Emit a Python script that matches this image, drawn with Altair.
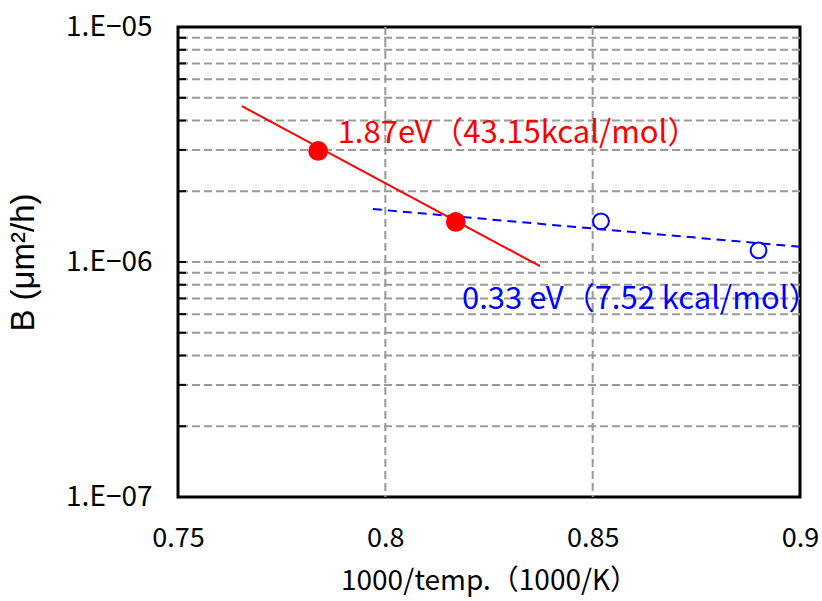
import altair as alt
import pandas as pd

# Data
red_x = [0.7838, 0.8170]
red_y = [2.97e-6, 1.48e-6]
red_fit_x = [0.7654, 0.8373]
red_fit_y = [4.61e-6, 9.6e-7]
blue_x = [0.852, 0.890]
blue_y = [1.49e-6, 1.12e-6]
blue_fit_x = [0.797, 0.900]
blue_fit_y = [1.68e-6, 1.16e-6]
x_ticks = [0.75, 0.8, 0.85, 0.9]
x_grid = [0.8, 0.85]
y_ticks = [1e-7, 1e-6, 1e-5]
y_grid = [m * 10.0 ** d for d in (-7, -6) for m in range(1, 10)][1:]
labels_text = ["1.87eV（43.15kcal/mol）", "0.33 eV（7.52 kcal/mol）"]
labels_x = [0.7885, 0.8185]
labels_y = [3.5e-6, 6.9e-7]
labels_color = ["#ff0000", "#0000ff"]

FONT = "Noto Sans CJK JP"

xs = alt.Scale(domain=[0.75, 0.9], nice=False, zero=False)
ys = alt.Scale(type="log", domain=[1e-7, 1e-5], nice=False)

xaxis = alt.Axis(values=x_ticks, labelExpr="format(datum.value, '~g')",
                 title="1000/temp.（1000/K）", grid=False, ticks=False, domain=False,
                 labelFlush=False, labelOverlap=False,
                 labelPadding=28, titlePadding=16, labelFontSize=27,
                 titleFontSize=28, labelFont=FONT, titleFont=FONT,
                 labelColor="black", titleColor="black", titleFontWeight="normal")
yaxis = alt.Axis(values=y_ticks,
                 labelExpr="'1.E−0' + (-round(log(datum.value)/LN10))",
                 title="B (μm²/h)", grid=False, ticks=False, domain=False, labelPadding=26,
                 labelFlush=False,
                 titlePadding=25, labelFontSize=28, titleFontSize=33,
                 labelFont=FONT, titleFont="Liberation Sans",
                 labelColor="black", titleColor="black", titleFontWeight="normal",
                 labelOverlap=False)

base = alt.Chart(pd.DataFrame({"x": x_ticks[:1], "y": [1e-6]})).mark_point(opacity=0).encode(
    x=alt.X("x:Q", scale=xs, axis=xaxis),
    y=alt.Y("y:Q", scale=ys, axis=yaxis),
)

hgrid = alt.Chart(pd.DataFrame({"y": y_grid})).mark_rule(
    color="#9a9a9a", strokeWidth=2, strokeDash=[8, 4]).encode(y=alt.Y("y:Q", scale=ys))
vgrid = alt.Chart(pd.DataFrame({"x": x_grid})).mark_rule(
    color="#9a9a9a", strokeWidth=2, strokeDash=[8, 4]).encode(x=alt.X("x:Q", scale=xs))

ticks = alt.Chart(pd.DataFrame({"y": y_grid})).mark_rule(color="black", strokeWidth=2).encode(
    y=alt.Y("y:Q", scale=ys), x=alt.value(0), x2=alt.value(8))

red_fit = alt.Chart(pd.DataFrame({"x": red_fit_x, "y": red_fit_y})).mark_line(
    color="#ff0000", strokeWidth=2).encode(x=alt.X("x:Q", scale=xs), y=alt.Y("y:Q", scale=ys))
blue_fit = alt.Chart(pd.DataFrame({"x": blue_fit_x, "y": blue_fit_y})).mark_line(
    color="#0000ff", strokeWidth=2, strokeDash=[9, 6]).encode(
    x=alt.X("x:Q", scale=xs), y=alt.Y("y:Q", scale=ys))
red_pts = alt.Chart(pd.DataFrame({"x": red_x, "y": red_y})).mark_point(
    filled=True, color="#ff0000", size=390, opacity=1, shape="circle").encode(
    x=alt.X("x:Q", scale=xs), y=alt.Y("y:Q", scale=ys))
blue_pts = alt.Chart(pd.DataFrame({"x": blue_x, "y": blue_y})).mark_point(
    filled=False, color="#0000ff", size=250, strokeWidth=2, opacity=1, shape="circle").encode(
    x=alt.X("x:Q", scale=xs), y=alt.Y("y:Q", scale=ys))

lab_df = pd.DataFrame({"x": labels_x, "y": labels_y, "t": labels_text, "c": labels_color})
labels = alt.Chart(lab_df).mark_text(align="left", baseline="middle", fontSize=31,
                                     font=FONT).encode(
    x=alt.X("x:Q", scale=xs), y=alt.Y("y:Q", scale=ys), text="t:N",
    color=alt.Color("c:N", scale=None))

chart = alt.layer(base, hgrid, vgrid, ticks, red_fit, blue_fit, red_pts, blue_pts, labels).properties(
    width=622, height=470,
    autosize=alt.AutoSizeParams(type="none"),
    padding={"left": 178, "top": 27, "right": 22, "bottom": 104},
).configure(background="white").configure_view(stroke="black", strokeWidth=3)

chart.save("out.html", embed_options={"renderer": "svg", "actions": False})
